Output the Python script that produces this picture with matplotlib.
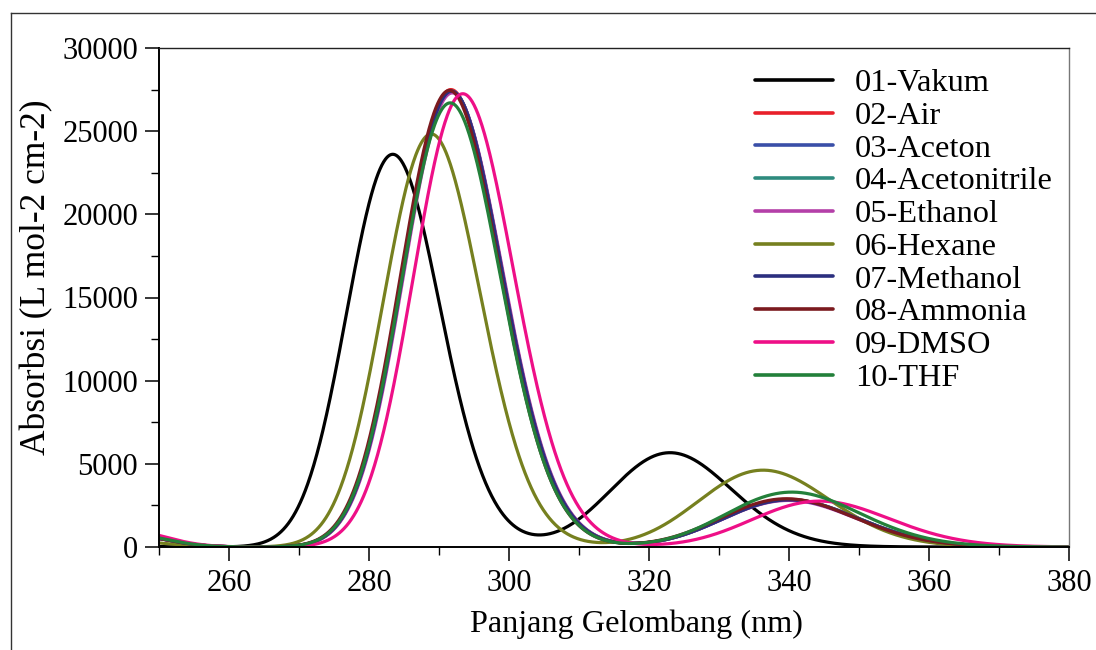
import numpy as np
import matplotlib
matplotlib.use("Agg")
import matplotlib.pyplot as plt
from matplotlib.lines import Line2D
from matplotlib.ticker import MultipleLocator

plt.rcParams['font.family'] = ['Liberation Serif', 'DejaVu Serif']

# ---- data (band parameters) ----
names = ["01-Vakum", "02-Air", "03-Aceton", "04-Acetonitrile", "05-Ethanol",
         "06-Hexane", "07-Methanol", "08-Ammonia", "09-DMSO", "10-THF"]
colors = ["#000000", "#e8202a", "#3a4fa8", "#2e8b7e", "#b43fa8",
          "#76801f", "#2b2f7f", "#7b1a1f", "#ee0f87", "#23803a"]
# main band (nm, peak absorbance)
band1_nm = [283.4, 291.7, 291.8, 291.8, 291.9, 288.9, 291.8, 291.5, 293.4, 291.6]
band1_eps = [23610, 27500, 27400, 27400, 27300, 24830, 27400, 27450, 27250, 26700]
# second (long-wavelength) band
band2_nm = [323.0, 339.9, 340.0, 340.0, 339.9, 336.3, 340.0, 339.6, 344.4, 340.4]
band2_eps = [5670, 2870, 2850, 2850, 2800, 4620, 2830, 2900, 2760, 3300]
# short-wavelength band below the plotted range
band0_nm = [238.0, 246.0, 246.0, 246.0, 246.0, 246.0, 246.0, 246.0, 246.0, 246.0]
band0_eps = [600, 700, 700, 700, 700, 330, 700, 700, 950, 740]
sigma_ev = 0.145  # broadening (eV)

x_ticks = [260, 280, 300, 320, 340, 360, 380]
y_ticks = [0, 5000, 10000, 15000, 20000, 25000, 30000]

# ---- figure ----
W, H = 1096, 650
fig = plt.figure(figsize=(W / 100, H / 100), dpi=100)
ax = fig.add_axes([159 / W, 1 - 547 / H, (1069 - 159) / W, (547 - 48) / H])

wl = np.linspace(250, 380, 1500)
E = 1239.84 / wl
for i in range(len(names)):
    spec = np.zeros_like(wl)
    for pos, h in ((band0_nm[i], band0_eps[i]), (band1_nm[i], band1_eps[i]),
                   (band2_nm[i], band2_eps[i])):
        e0 = 1239.84 / pos
        spec += h * np.exp(-((E - e0) / sigma_ev) ** 2)
    ax.plot(wl, spec, color=colors[i], lw=2.3, label=names[i], solid_capstyle='round')

ax.set_xlim(250, 380)
ax.set_ylim(0, 30000)
ax.set_xticks(x_ticks)
ax.set_yticks(y_ticks)
ax.xaxis.set_minor_locator(MultipleLocator(10))
ax.yaxis.set_minor_locator(MultipleLocator(2500))
ax.tick_params(which='major', direction='out', length=10, width=1.1, labelsize=22, pad=5)
ax.tick_params(which='minor', direction='out', length=5.5, width=1.0)
ax.tick_params(axis='x', which='major', pad=6)

for s in ['left', 'bottom']:
    ax.spines[s].set_linewidth(1.4)
    ax.spines[s].set_color('black')
ax.spines['top'].set_linewidth(1.0)
ax.spines['top'].set_color('#222222')
ax.spines['right'].set_linewidth(1.0)
ax.spines['right'].set_color('#777777')

ax.set_xlabel("Panjang Gelombang (nm)", fontsize=23.2, labelpad=8)
ax.xaxis.set_label_coords(0.525, -0.125)
ax.set_ylabel("Absorbsi (L mol-2 cm-2)", fontsize=25.5, labelpad=10)
ax.yaxis.set_label_coords(-0.116, 0.54)

leg = ax.legend(loc='upper left', bbox_to_anchor=(0.630, 1.004), frameon=False,
                fontsize=23.3, handlelength=2.4, handletextpad=0.68,
                labelspacing=0.095, borderaxespad=0.3)
for line in leg.get_lines():
    line.set_linewidth(2.6)

# figure frame (top and left)
fig.add_artist(Line2D([10.5 / W, 10.5 / W], [0, 1 - 13 / H], transform=fig.transFigure,
                      color='#333333', lw=1.0))
fig.add_artist(Line2D([10.5 / W, 1], [1 - 13 / H, 1 - 13 / H], transform=fig.transFigure,
                      color='#333333', lw=1.0))

fig.savefig("out.png", dpi=100)
